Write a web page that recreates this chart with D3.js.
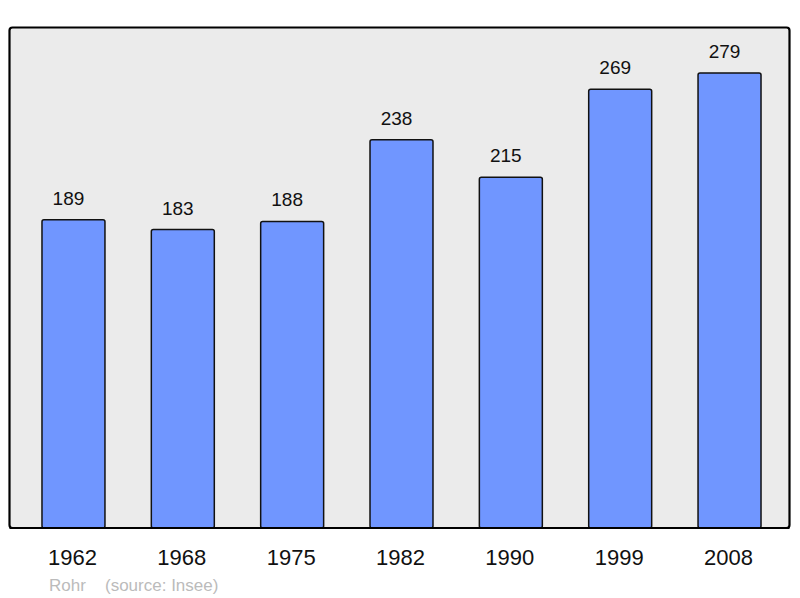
<!DOCTYPE html>
<html><head><meta charset="utf-8">
<script src="https://cdn.jsdelivr.net/npm/d3@7"></script>
<style>body{margin:0;background:#fff}svg{display:block}</style>
</head><body>
<svg id="c" width="800" height="598"></svg>
<script>
const years = ["1962","1968","1975","1982","1990","1999","2008"];
const population = [189,183,188,238,215,269,279];
const sourceText = ["Rohr", "(source: Insee)"];

const svg = d3.select("#c");
const font = "'Liberation Sans', Arial, sans-serif";

svg.append("rect").attr("x",9.5).attr("y",27.5).attr("width",780).attr("height",500.5)
  .attr("rx",3).attr("fill","#ebebeb").attr("stroke","#000").attr("stroke-width",2.2);

const x = d3.scaleBand().domain(years).range([18.8, 784.2]).paddingInner(0.424).paddingOuter(0.212);
const y = d3.scaleLinear().domain([0, 307.2]).range([528, 27]);

const data = years.map((yr,i)=>({yr, v: population[i]}));

svg.selectAll("rect.bar").data(data).enter().append("rect").attr("class","bar")
  .attr("x", d=>x(d.yr)).attr("y", d=>y(d.v))
  .attr("width", x.bandwidth()).attr("height", d=>y(0)-y(d.v))
  .attr("rx",2).attr("fill","#7096ff").attr("stroke","#111").attr("stroke-width",1.5);

svg.selectAll("text.val").data(data).enter().append("text").attr("class","val")
  .attr("x", d=>x(d.yr)+x.bandwidth()/2-5).attr("y", d=>y(d.v)-15)
  .attr("text-anchor","middle").attr("font-family",font).attr("font-size",19).attr("fill","#111")
  .text(d=>d.v);

svg.append("line").attr("x1",9.5).attr("x2",789.5).attr("y1",528).attr("y2",528)
  .attr("stroke","#000").attr("stroke-width",2.2);

const xAxis = d3.axisBottom(x).tickSize(0).tickPadding(0);
const g = svg.append("g").attr("transform","translate(0,565)").call(xAxis);
g.select(".domain").remove();
g.selectAll("text").attr("font-family",font).attr("font-size",22).attr("fill","#111")
  .attr("dy",null).attr("y",0).attr("dx",-1);

svg.append("text").attr("x",49).attr("y",590.5).attr("font-family",font).attr("font-size",17)
  .attr("fill","#bbb").text(sourceText[0]);
svg.append("text").attr("x",105).attr("y",590.5).attr("font-family",font).attr("font-size",17)
  .attr("fill","#bbb").text(sourceText[1]);
</script>
</body></html>
